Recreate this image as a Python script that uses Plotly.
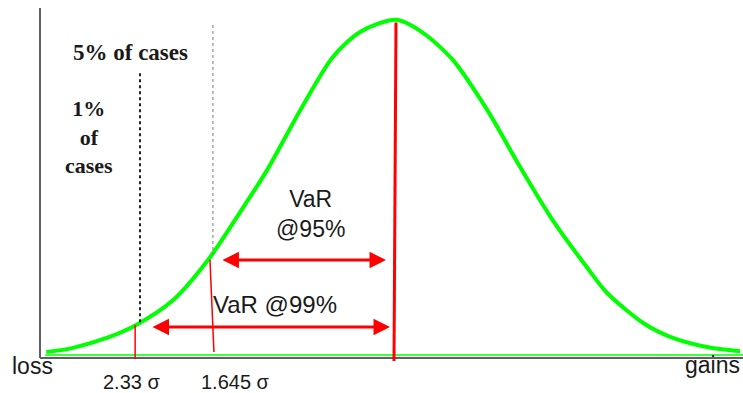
import plotly.graph_objects as go

# normal curve (x in sigma units, y as density)
curve_z = [-3.15, -2.91, -2.60, -2.34, -2.01, -1.68, -1.41, -1.16, -0.86, -0.57, -0.32, 0.0,
           0.24, 0.51, 0.82, 1.12, 1.41, 1.72, 1.90, 2.23, 2.47, 2.80, 3.10]
curve_y = [0.007, 0.012, 0.024, 0.039, 0.068, 0.118, 0.171, 0.222, 0.293, 0.355, 0.385, 0.399,
           0.384, 0.352, 0.293, 0.225, 0.163, 0.107, 0.077, 0.041, 0.025, 0.013, 0.008]

# VaR cut-offs (as drawn) and their labels
var_z = [-2.35, -1.66]
var_curve_y = [0.039, 0.116]
var_labels = ['2.33 σ', '1.645 σ']
case_labels = ['1%<br>of<br>cases', '5% of cases']
var_text = ['VaR @99%', 'VaR<br>@95%']

X_RANGE = [-3.252, 3.126]
Y_RANGE = [-0.00826, 0.413]
RED = '#ff0000'
GREEN = '#00ff00'
AXIS = '#606060'
TXT = '#1a1a1a'

fig = go.Figure()
fig.add_trace(go.Scatter(x=curve_z, y=curve_y, mode='lines',
                         line=dict(color=GREEN, width=4, shape='spline', smoothing=0.8),
                         hoverinfo='skip', showlegend=False))

shapes = [
    # axes
    dict(type='line', xref='x', yref='y', x0=-3.207, x1=-3.207, y0=0, y1=Y_RANGE[1],
         line=dict(color=AXIS, width=2)),
    dict(type='line', xref='x', yref='y', x0=-3.207, x1=X_RANGE[1], y0=0, y1=0,
         line=dict(color=AXIS, width=2)),
    # thin green baseline
    dict(type='line', xref='x', yref='y', x0=-3.16, x1=X_RANGE[1], y0=0.0035, y1=0.0035,
         line=dict(color=GREEN, width=1.5)),
    # mean
    dict(type='line', xref='x', yref='y', x0=0.0, x1=-0.018, y0=0.396, y1=-0.0035,
         line=dict(color=RED, width=3)),
    # 99% cut-off
    dict(type='line', xref='x', yref='y', x0=var_z[0], x1=var_z[0], y0=var_curve_y[0], y1=-0.0012,
         line=dict(color=RED, width=1.5)),
    # 95% cut-off (slightly slanted in the original)
    dict(type='line', xref='x', yref='y', x0=var_z[1] - 0.016, x1=var_z[1] + 0.02, y0=var_curve_y[1], y1=0.0071,
         line=dict(color=RED, width=1.5)),
    # dotted guides
    dict(type='line', xref='x', yref='y', x0=-2.306, x1=-2.306, y0=0.336, y1=0.041,
         line=dict(color='#222222', width=2, dash='dot')),
    dict(type='line', xref='x', yref='y', x0=-1.649, x1=-1.649, y0=0.393, y1=0.122,
         line=dict(color='#777777', width=1, dash='dot')),
]

ann = []
# double-headed arrows
for y, x0, x1 in [(0.1156, -1.577, -0.090), (0.0366, -2.207, -0.054)]:
    ann.append(dict(x=x1, y=y, ax=x0, ay=y, xref='x', yref='y', axref='x', ayref='y',
                    text='', showarrow=True, arrowhead=2, arrowside='end+start',
                    arrowsize=1.1, arrowwidth=3, arrowcolor=RED))

sans = 'Liberation Sans, Arial, sans-serif'
serif = 'Liberation Serif, Times New Roman, serif'


def label(x, y, text, family, size, ref='x'):
    return dict(x=x, y=y, xref=ref, yref=ref.replace('x', 'y'), text=text, showarrow=False,
                xanchor='center', yanchor='middle', font=dict(family=family, size=size, color=TXT))


ann += [
    label(-0.766, 0.170, var_text[1], sans, 23),
    label(-1.090, 0.0637, var_text[0], sans, 24),
    label(-2.396, 0.361, '<b>%s</b>' % case_labels[1], serif, 23),
    label(-2.766, 0.261, '<b>%s</b>' % case_labels[0], serif, 22),
    label(-0.004, -0.0028, 'loss', sans, 23, ref='paper'),
    label(0.957, 0.0, 'gains', sans, 23, ref='paper'),
    label(0.1356, -0.0476, var_labels[0], sans, 20, ref='paper'),
    label(0.2825, -0.0476, var_labels[1], sans, 20, ref='paper'),
]

fig.update_layout(
    width=743, height=393,
    margin=dict(l=35, r=0, t=8, b=28),
    paper_bgcolor='white', plot_bgcolor='white',
    xaxis=dict(range=X_RANGE, visible=False, fixedrange=True),
    yaxis=dict(range=Y_RANGE, visible=False, fixedrange=True),
    shapes=shapes, annotations=ann,
    showlegend=False,
)

fig.write_html("out.html", config={'displayModeBar': False},
               post_script="document.body.style.margin='0';")
